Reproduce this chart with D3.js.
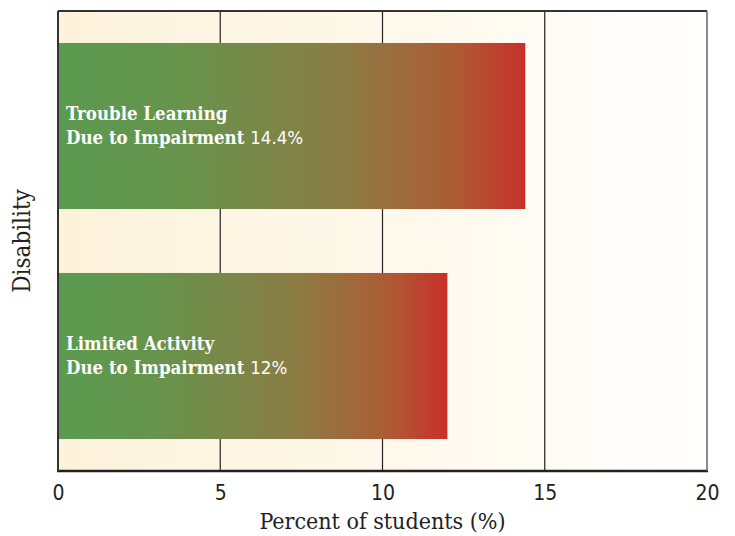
<!DOCTYPE html>
<html>
<head>
<meta charset="utf-8">
<script src="https://cdn.jsdelivr.net/npm/d3@7"></script>
<style>
  body { margin: 0; background: #fff; }
  svg { display: block; }
</style>
</head>
<body>
<div id="chart"></div>
<script>
// data
const categories = ["Trouble Learning|Due to Impairment", "Limited Activity|Due to Impairment"];
const values = [14.4, 12];
const valueLabels = ["14.4%", "12%"];
const xTicks = [0, 5, 10, 15, 20];

const width = 735, height = 536;
const margin = { top: 11, right: 28, bottom: 65, left: 58 };

const svg = d3.select("#chart").append("svg")
  .attr("width", width)
  .attr("height", height);

const x = d3.scaleLinear().domain([0, 20]).range([margin.left, width - margin.right]);
const y = d3.scaleBand().domain(categories)
  .range([margin.top, height - margin.bottom])
  .paddingInner(0.278).paddingOuter(0.139);

const defs = svg.append("defs");

// cream background gradient
const bg = defs.append("linearGradient").attr("id", "bgGrad");
bg.append("stop").attr("offset", "0%").attr("stop-color", "#fdf3dc");
bg.append("stop").attr("offset", "55%").attr("stop-color", "#fef9ec");
bg.append("stop").attr("offset", "100%").attr("stop-color", "#ffffff");

// bar gradient green -> red
const barGrad = defs.append("linearGradient").attr("id", "barGrad");
barGrad.append("stop").attr("offset", "0%").attr("stop-color", "#5a9a50");
barGrad.append("stop").attr("offset", "25%").attr("stop-color", "#66944c");
barGrad.append("stop").attr("offset", "60%").attr("stop-color", "#8a7d45");
barGrad.append("stop").attr("offset", "85%").attr("stop-color", "#ad5c35");
barGrad.append("stop").attr("offset", "100%").attr("stop-color", "#c8302a");

svg.append("rect")
  .attr("x", x(0)).attr("y", margin.top)
  .attr("width", x(20) - x(0))
  .attr("height", height - margin.bottom - margin.top)
  .attr("fill", "url(#bgGrad)");

// grid lines
svg.append("g")
  .selectAll("line")
  .data(xTicks.slice(1, -1))
  .enter().append("line")
  .attr("x1", d => x(d)).attr("x2", d => x(d))
  .attr("y1", margin.top).attr("y2", height - margin.bottom)
  .attr("stroke", "#222")
  .attr("stroke-width", 1.2);

// bars
svg.selectAll(".bar")
  .data(categories)
  .enter().append("rect")
  .attr("class", "bar")
  .attr("x", x(0))
  .attr("y", d => y(d))
  .attr("width", (d, i) => x(values[i]) - x(0))
  .attr("height", y.bandwidth())
  .attr("fill", "url(#barGrad)");

// labels inside bars
categories.forEach((c, i) => {
  const lines = c.split("|");
  const t = svg.append("text")
    .attr("x", x(0) + 8)
    .attr("y", y(c) + 77)
    .attr("fill", "#fff")
    .attr("font-family", "'DejaVu Serif Condensed', 'DejaVu Serif', serif")
    .attr("font-size", "18.5px");
  t.append("tspan").attr("x", x(0) + 8).attr("font-weight", "bold").text(lines[0]);
  const l2 = t.append("tspan").attr("x", x(0) + 8).attr("dy", 24);
  l2.append("tspan").attr("font-weight", "bold").text(lines[1] + " ");
  l2.append("tspan")
    .attr("font-family", "'DejaVu Sans Condensed', sans-serif")
    .attr("font-weight", "normal").text(valueLabels[i]);
});

// frame
const frame = svg.append("g");
frame.append("line").attr("x1", x(0)).attr("x2", x(20))
  .attr("y1", margin.top).attr("y2", margin.top)
  .attr("stroke", "#333").attr("stroke-width", 2);
frame.append("line").attr("x1", x(0) - 1).attr("x2", x(20) + 1)
  .attr("y1", height - margin.bottom).attr("y2", height - margin.bottom)
  .attr("stroke", "#222").attr("stroke-width", 2.5);
frame.append("line").attr("x1", x(0)).attr("x2", x(0))
  .attr("y1", margin.top).attr("y2", height - margin.bottom)
  .attr("stroke", "#333").attr("stroke-width", 2);
frame.append("line").attr("x1", x(20)).attr("x2", x(20))
  .attr("y1", margin.top).attr("y2", height - margin.bottom)
  .attr("stroke", "#666").attr("stroke-width", 1.5);

// x axis
const xAxis = svg.append("g")
  .attr("transform", `translate(0, ${height - margin.bottom})`)
  .call(d3.axisBottom(x).tickValues(xTicks).tickSize(0).tickPadding(14));
xAxis.select(".domain").remove();
xAxis.selectAll("text")
  .attr("font-family", "'Liberation Sans Narrow', 'DejaVu Sans Condensed', sans-serif")
  .attr("font-size", "21px")
  .attr("fill", "#222");

svg.append("text")
  .attr("x", (x(0) + x(20)) / 2)
  .attr("y", 529)
  .attr("text-anchor", "middle")
  .attr("font-family", "'DejaVu Serif Condensed', 'DejaVu Serif', serif")
  .attr("font-size", "23px")
  .attr("fill", "#222")
  .text("Percent of students (%)");

svg.append("text")
  .attr("transform", `translate(30, ${(margin.top + height - margin.bottom) / 2}) rotate(-90)`)
  .attr("text-anchor", "middle")
  .attr("font-family", "'DejaVu Serif Condensed', 'DejaVu Serif', serif")
  .attr("font-size", "24px")
  .attr("fill", "#222")
  .text("Disability");
</script>
</body>
</html>
